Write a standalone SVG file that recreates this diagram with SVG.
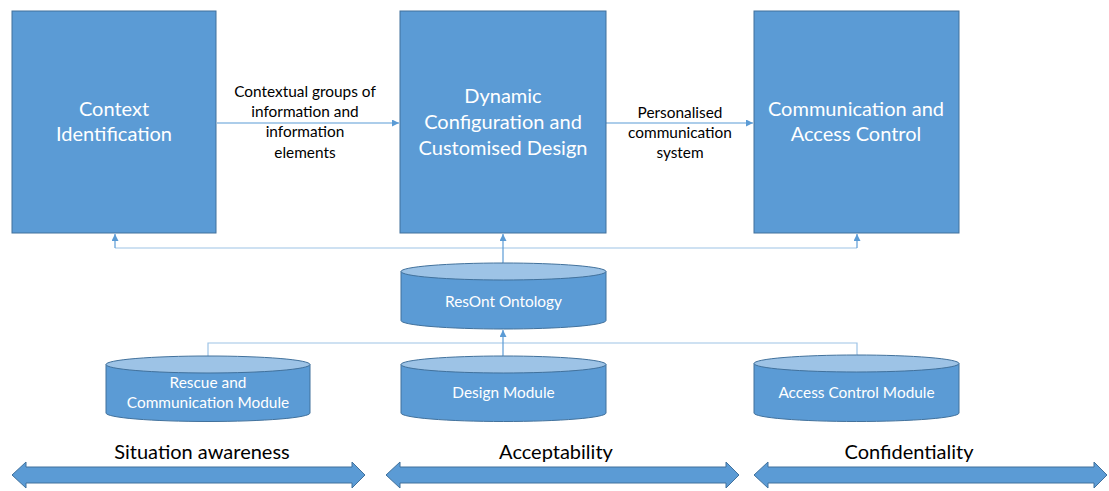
<svg xmlns="http://www.w3.org/2000/svg" width="1109" height="491" viewBox="0 0 1109 491">
<style>
.box{fill:#5B9BD5;stroke:#41719C;stroke-width:1}
.cyl{fill:#5B9BD5;stroke:#41719C;stroke-width:1}
.cyltop{fill:#9DC3E6;stroke:#41719C;stroke-width:1}
.wt{font-family:Lato,"Open Sans",sans-serif;fill:#fff;text-anchor:middle}
.big{font-size:20px}
.mid{font-size:15.4px}
.lbl{font-family:Lato,"Open Sans",sans-serif;fill:#000;text-anchor:middle;font-size:15.4px}
.cat{font-family:Lato,"Open Sans",sans-serif;fill:#000;text-anchor:middle;font-size:20px}
.ln{fill:none;stroke:#5B9BD5;stroke-width:1.2}
.ln2{fill:none;stroke:#9DC3E6;stroke-width:1.2}
</style>
<defs>
<marker id="ah" viewBox="0 0 10 10" refX="10" refY="5" markerWidth="7" markerHeight="7" markerUnits="userSpaceOnUse" orient="auto">
<path d="M0,0 L10,5 L0,10 Z" fill="#5B9BD5"/>
</marker>
</defs>
<g id="connectors">
<line class="ln" x1="217" y1="123" x2="399" y2="123" marker-end="url(#ah)"/>
<line class="ln" x1="606" y1="123" x2="753" y2="123" marker-end="url(#ah)"/>
<polyline class="ln2" points="115,248 857,248"/>
<line class="ln" x1="115" y1="248" x2="115" y2="234" marker-end="url(#ah)"/>
<line class="ln" x1="857" y1="248" x2="857" y2="234" marker-end="url(#ah)"/>
<line class="ln" x1="503" y1="263" x2="503" y2="234" marker-end="url(#ah)"/>
<polyline class="ln2" points="208,356 208,343 857,343 857,355"/>
<line class="ln" x1="503" y1="356" x2="503" y2="330" marker-end="url(#ah)"/>
</g>
<g id="context-identification">
<rect class="box" x="12" y="11" width="204" height="222"/>
<text class="wt big" x="114" y="116">Context</text>
<text class="wt big" x="114" y="141">Identification</text>
</g>
<g id="dynamic-configuration">
<rect class="box" x="400" y="11" width="206" height="222"/>
<text class="wt big" x="503" y="103">Dynamic</text>
<text class="wt big" x="503" y="129">Configuration and</text>
<text class="wt big" x="503" y="155">Customised Design</text>
</g>
<g id="communication-access-control">
<rect class="box" x="754" y="11" width="205" height="222"/>
<text class="wt big" x="856" y="116">Communication and</text>
<text class="wt big" x="856" y="141">Access Control</text>
</g>
<g id="edge-labels">
<text class="lbl" x="305" y="97">Contextual groups of</text>
<text class="lbl" x="305" y="117">information and</text>
<text class="lbl" x="305" y="137">information</text>
<text class="lbl" x="305" y="158">elements</text>
<text class="lbl" x="680" y="118">Personalised</text>
<text class="lbl" x="680" y="138">communication</text>
<text class="lbl" x="680" y="158">system</text>
</g>
<g id="resont-ontology">
<path class="cyl" d="M401,271.5 V320.5 A102.5,8.5 0 0 0 606,320.5 V271.5 Z"/>
<ellipse class="cyltop" cx="503.5" cy="271.5" rx="102.5" ry="8.5"/>
<text class="wt mid" x="503.5" y="307">ResOnt Ontology</text>
</g>
<g id="rescue-communication-module">
<path class="cyl" d="M106,364.5 V413 A102,8.5 0 0 0 310,413 V364.5 Z"/>
<ellipse class="cyltop" cx="208" cy="364.5" rx="102" ry="8.5"/>
<text class="wt mid" x="208" y="388">Rescue and</text>
<text class="wt mid" x="208" y="408">Communication Module</text>
</g>
<g id="design-module">
<path class="cyl" d="M401,364.5 V413 A102.5,8.5 0 0 0 606,413 V364.5 Z"/>
<ellipse class="cyltop" cx="503.5" cy="364.5" rx="102.5" ry="8.5"/>
<text class="wt mid" x="503.5" y="398">Design Module</text>
</g>
<g id="access-control-module">
<path class="cyl" d="M754,363.5 V413 A102.5,8.5 0 0 0 959,413 V363.5 Z"/>
<ellipse class="cyltop" cx="856.5" cy="363.5" rx="102.5" ry="8.5"/>
<text class="wt mid" x="856.5" y="398">Access Control Module</text>
</g>
<g id="situation-awareness">
<polygon class="box" points="12,475 26,462 26,467 352,467 352,462 365,475 352,488 352,483 26,483 26,488"/>
<text class="cat" x="202" y="459">Situation awareness</text>
</g>
<g id="acceptability">
<polygon class="box" points="386,475 400,462 400,467 726,467 726,462 739,475 726,488 726,483 400,483 400,488"/>
<text class="cat" x="556" y="459">Acceptability</text>
</g>
<g id="confidentiality">
<polygon class="box" points="754,475 768,462 768,467 1094,467 1094,462 1107,475 1094,488 1094,483 768,483 768,488"/>
<text class="cat" x="909" y="459">Confidentiality</text>
</g>
</svg>
